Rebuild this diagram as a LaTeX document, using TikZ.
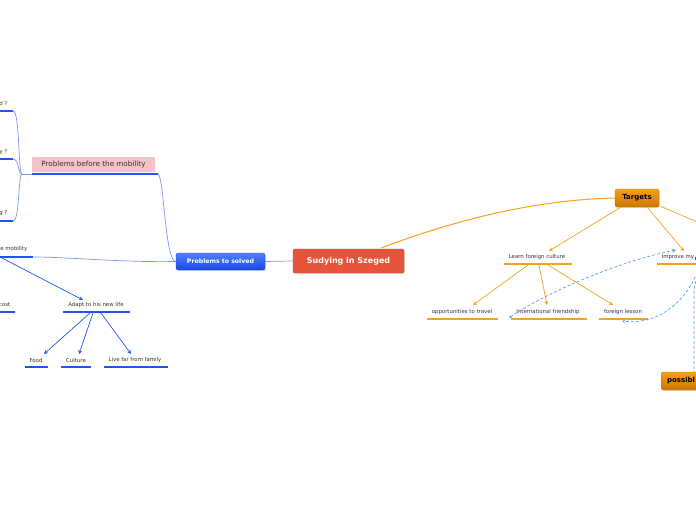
\documentclass[tikz,border=0pt]{standalone}
\usepackage{fontspec}
\setmainfont{DejaVu Sans}
\usetikzlibrary{arrows.meta,shadows}
\definecolor{rootred}{HTML}{E6553B}
\definecolor{rootborder}{HTML}{C8432C}
\definecolor{nbluetop}{HTML}{4F80FF}
\definecolor{nbluebot}{HTML}{1947E6}
\definecolor{ublue}{HTML}{1F55F2}
\definecolor{lblue}{HTML}{7896F6}
\definecolor{uorange}{HTML}{F7A21E}
\definecolor{ntop}{HTML}{F5A015}
\definecolor{nbot}{HTML}{CF7400}
\definecolor{pinkbg}{HTML}{F2C2C9}
\definecolor{dblue}{HTML}{5C9FE8}
\definecolor{txtgray}{HTML}{333333}
\begin{document}
\begin{tikzpicture}[x=1pt,y=-1pt,
  small/.style={font=\fontsize{5.4}{6}\selectfont, text=txtgray, inner sep=0.5pt},
  bline/.style={line width=2pt, draw=ublue},
  oline/.style={line width=2pt, draw=uorange},
  thinblue/.style={draw=lblue, line width=0.7pt},
  barrow/.style={draw=ublue, line width=0.7pt, -{Stealth[length=4pt,width=4pt]}},
  oarrow/.style={draw=uorange, line width=0.7pt, -{Stealth[length=4pt,width=4pt]}},
  dasharrow/.style={draw=dblue, line width=0.7pt, dash pattern=on 3pt off 2pt},
  rootbox/.style={fill=rootred, draw=rootborder, line width=0.4pt, rounded corners=1.5pt, minimum width=111pt, minimum height=24pt, font=\bfseries\fontsize{8}{9}\selectfont, text=white, drop shadow={opacity=0.25, shadow xshift=0.8pt, shadow yshift=-0.8pt}},
  bluebox/.style={top color=nbluetop, bottom color=nbluebot, draw=nbluebot, line width=0.3pt, rounded corners=2pt, minimum width=89pt, minimum height=17pt, font=\bfseries\fontsize{6.2}{7}\selectfont, text=white, drop shadow={opacity=0.25, shadow xshift=0.8pt, shadow yshift=-0.8pt}},
  orangebox/.style={top color=ntop, bottom color=nbot, draw=nbot, line width=0.3pt, rounded corners=2pt, minimum height=18pt, font=\bfseries\fontsize{7}{8}\selectfont, text=black, drop shadow={opacity=0.25, shadow xshift=0.8pt, shadow yshift=-0.8pt}},
  pinkbox/.style={fill=pinkbg, draw=none, rounded corners=1pt, minimum width=123pt, minimum height=15pt, font=\fontsize{7.2}{8}\selectfont, text=txtgray}
]
\useasboundingbox (0,0) rectangle (696,520);
\clip (0,0) rectangle (696,520);

% ---------- main nodes ----------
\node (root) [rootbox] at (348.5,261) {Sudying in Szeged};
\node (pts) [bluebox] at (220.5,261.5) {Problems to solved};
\node (tg) [orangebox, minimum width=44pt] at (637,198) {Targets};
\node (pbm) [pinkbox] at (93.5,164.5) {Problems before the mobility};
\node (poss) [orangebox, anchor=west, minimum width=50pt, text width=38pt, align=left] at (661,381) {possibl};

% ---------- left side text nodes ----------
\node (q1) [small, anchor=east] at (8,103) {d ?};
\node (q2) [small, anchor=east] at (8,152) {y ?};
\node (q3) [small, anchor=east] at (8,213) {g ?};
\node (em) [small, anchor=east] at (28,249.5) {e mobility};
\node (cost) [small, anchor=east] at (11,305) {cost};
\node (adapt) [small] at (96,305) {Adapt to his new life};
\node (food) [small] at (36,360) {Food};
\node (cult) [small] at (76,360) {Culture};
\node (live) [small] at (135,360) {Live far from family};

% underline coordinates (left)
\coordinate (pbmW) at (32,174);   \coordinate (pbmE) at (158,174);
\coordinate (joint) at (22,174);
\coordinate (q1W) at (-2,111);  \coordinate (q1E) at (13,111);
\coordinate (q2W) at (-2,159);  \coordinate (q2E) at (13,159);
\coordinate (q3W) at (-2,221);  \coordinate (q3E) at (13,221);
\coordinate (emW) at (-2,257);  \coordinate (emE) at (33,257);
\coordinate (emA) at (2,258);
\coordinate (costW) at (-2,312); \coordinate (costE) at (15,312);
\coordinate (adW) at (63,312);  \coordinate (adE) at (130,312);
\coordinate (foW) at (25,367);  \coordinate (foE) at (48,367);
\coordinate (cuW) at (61,367);  \coordinate (cuE) at (91,367);
\coordinate (liW) at (104,367); \coordinate (liE) at (168,367);

% thin blue connectors
\draw[thinblue] (root.west) -- (pts.east);
\draw[thinblue] (pts.west) .. controls (165,262) and (164,176) .. (pbmE);
\draw[thinblue] (pbmW) -- (joint);
\draw[thinblue] (joint) .. controls (18,174) and (20,111) .. (q1E);
\draw[thinblue] (joint) .. controls (18,174) and (19,159) .. (q2E);
\draw[thinblue] (joint) .. controls (18,174) and (20,221) .. (q3E);
\draw[thinblue] (pts.west) .. controls (120,262.5) and (70,257) .. (emE);

% underlines (left)
\draw[bline] (pbmW) -- (pbmE);
\draw[bline] (q1W) -- (q1E);
\draw[bline] (q2W) -- (q2E);
\draw[bline] (q3W) -- (q3E);
\draw[bline] (emW) -- (emE);
\draw[bline] (costW) -- (costE);
\draw[bline] (adW) -- (adE);
\draw[bline] (foW) -- (foE);
\draw[bline] (cuW) -- (cuE);
\draw[bline] (liW) -- (liE);

% blue arrows
\coordinate (adT) at (83,300);
\coordinate (adS1) at (90,313);
\coordinate (adS2) at (93,313);
\coordinate (adS3) at (101,313);
\draw[barrow] (emA) -- (adT);
\draw[barrow] (adS1) -- (44,354) coordinate (foT);
\draw[barrow] (adS2) -- (79,354) coordinate (cuT);
\draw[barrow] (adS3) -- (131,354) coordinate (liT);

% ---------- right side text nodes ----------
\node (lfc) [small] at (537,257) {Learn foreign culture};
\node (imp) [small, anchor=west] at (661,257) {Improve my};
\node (opp) [small] at (462,312) {opportunities to travel};
\node (intl) [small] at (548,312) {International friendship};
\node (fl) [small] at (623,312) {foreign lesson};

\coordinate (lfcW) at (504,264); \coordinate (lfcE) at (572,264);
\coordinate (impW) at (657,264); \coordinate (impE) at (700,264);
\coordinate (oppW) at (427,319); \coordinate (oppE) at (498,319);
\coordinate (intW) at (511,319); \coordinate (intE) at (587,319);
\coordinate (flW) at (599,319);  \coordinate (flE) at (648,319);

\draw[oline] (lfcW) -- (lfcE);
\draw[oline] (impW) -- (impE);
\draw[oline] (oppW) -- (oppE);
\draw[oline] (intW) -- (intE);
\draw[oline] (flW) -- (flE);

% orange connectors
\draw[draw=uorange, line width=1pt] (381,248) .. controls (450,222) and (530,200) .. (tg.west);
\coordinate (offR) at (730,236);
\draw[draw=uorange, line width=0.7pt] (660,206) -- (offR);
\draw[oarrow] (621,207) -- (549,251);
\draw[oarrow] (647,207) -- (684,251);
\draw[oarrow] (528,265) -- (473,305);
\draw[oarrow] (539,265) -- (547,305);
\draw[oarrow] (548,265) -- (613,305);

% dashed relations
\draw[dasharrow, {Stealth[length=3pt,width=3pt,open]}-{Stealth[length=4pt,width=4pt]}] (509,318) .. controls (540,296) and (615,262) .. (676,250);
\coordinate (offR2) at (702,258);
\draw[dasharrow, -{Stealth[length=3pt,width=3pt,open]}] (offR2) .. controls (694,292) and (665,326) .. (622,321);
\coordinate (offR3) at (700,272);
\draw[dasharrow] (offR3) .. controls (694,285) .. (694,300) -- (694,372);
\fill[ublue] (694.5,256.5) rectangle (697,259.5);
\end{tikzpicture}
\end{document}
